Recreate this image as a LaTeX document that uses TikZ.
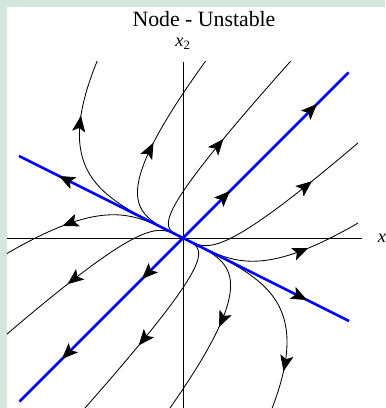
\documentclass[tikz,border=0pt]{standalone}
\usepackage{fontspec}
\setmainfont{Liberation Serif}
\usetikzlibrary{arrows.meta}
\definecolor{framegreen}{RGB}{213,231,220}

\begin{document}
\begin{tikzpicture}[x=2.5cm, y=2.5cm,
    traj/.style={black, line width=0.6pt},
    eigen/.style={blue, line width=1.8pt},
    axis/.style={black, line width=0.7pt},
    tip/.style={-{Stealth[length=4mm, width=3.3mm, inset=0.9mm]}, black, line width=0.6pt},
    declare function={px(\t,\k)=\t+\k*\t*\t*\t*\t; py(\t,\k)=-0.5*\t+\k*\t*\t*\t*\t;}]
    \useasboundingbox (-1.83,-1.70) rectangle (2.02,2.38);
    % Background
    \fill[framegreen] (-1.83,-1.70) rectangle (2.02,2.38);
    \fill[white] (-1.76,-1.70) rectangle (2.02,2.31);
    % Axes
    \coordinate (O) at (0,0);
    \coordinate (XLeft) at (-1.76,0);
    \coordinate (XRight) at (1.79,0);
    \coordinate (YLow) at (0,-1.70);
    \coordinate (YHigh) at (0,1.76);
    \draw[axis] (XLeft) -- (XRight);
    \draw[axis] (YLow) -- (YHigh);
    % Trajectories
    \begin{scope}
        \clip (-1.76,-1.70) rectangle (1.75,1.76);
        \foreach \cc/\te/\ta in {0.0949/-1.78/-1.496, -0.0938/1.76/1.559,
                                 1.12/-1.05/-0.832, -0.98/1.07/0.834,
                                 34/-0.475/-0.391, -27.5/0.5/0.421,
                                 15.1/0.55/0.481, -15.2/-0.55/-0.462,
                                 0.527/1.1/0.903, -0.526/-1.1/-0.884}{
            \draw[traj] plot[domain=0:\te, samples=150] ({px(\x,\cc)}, {py(\x,\cc)});
            \pgfmathsetmacro\tb{0.99*\ta}
            \draw[tip] plot[samples at={\tb,\ta}] ({px(\x,\cc)}, {py(\x,\cc)});
        }
    \end{scope}
    % Eigenvector lines
    \draw[eigen] (-1.635,-1.635) -- (1.655,1.655);
    \draw[eigen] (-1.64,0.82) -- (1.66,-0.83);
    \foreach \ex/\ey in {1.34/1.34, 0.47/0.47, -0.41/-0.41, -1.21/-1.21, -1.24/0.62, 1.24/-0.62}{
        \draw[tip] ({0.97*\ex},{0.97*\ey}) -- (\ex,\ey);
    }
    % Labels
    \node[anchor=base, font=\fontsize{15.5}{18}\selectfont] (Title) at (0.21,2.11) {Node - Unstable};
    \node[anchor=base, font=\fontsize{13}{15}\selectfont] (XTwo) at (0,1.91) {\textit{x}\textsubscript{2}};
    \node[anchor=base west, font=\fontsize{13}{15}\selectfont] (XOne) at (1.90,-0.05) {\textit{x}\textsubscript{1}};
\end{tikzpicture}
\end{document}
